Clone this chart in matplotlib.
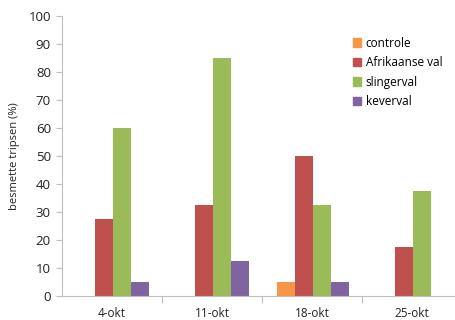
import numpy as np
import matplotlib
matplotlib.use('Agg')
import matplotlib.pyplot as plt
from matplotlib.patches import Patch

dates = ['4-okt', '11-okt', '18-okt', '25-okt']
series = ['controle', 'Afrikaanse val', 'slingerval', 'keverval']
controle = [0, 0, 5, 0]
afrikaanse_val = [27.5, 32.5, 50, 17.5]
slingerval = [60, 85, 32.5, 37.5]
keverval = [5, 12.5, 5, 0]
colors = ['#F79646', '#C0504D', '#9BBB59', '#8064A2']

plt.rcParams['font.family'] = ['Open Sans', 'DejaVu Sans']

fig = plt.figure(figsize=(4.55, 3.2), dpi=100)
ax = fig.add_axes([62 / 455, 1 - 296.3 / 320, 400 / 455, (296.3 - 15.7) / 320])

x = np.arange(len(dates))
w = 0.18
values = [controle, afrikaanse_val, slingerval, keverval]
for i, (vals, c) in enumerate(zip(values, colors)):
    ax.bar(x + (i - 1.5) * w + 0.01, vals, width=w, color=c, linewidth=0)

ax.set_xlim(-0.5, len(dates) - 0.5)
ax.set_ylim(0, 100)
ax.set_yticks(range(0, 101, 10))
ax.set_xticks(x)
ax.set_xticklabels(dates)
ax.set_xticks(np.arange(0.5, len(dates) - 0.5, 1), minor=True)

for s in ['top', 'right']:
    ax.spines[s].set_visible(False)
for s in ['left', 'bottom']:
    ax.spines[s].set_color('#BFBFBF')
    ax.spines[s].set_linewidth(0.8)

ax.tick_params(axis='x', which='major', length=0, pad=8, labelsize=8.5, colors='#222222')
ax.tick_params(axis='x', which='minor', length=5, color='#BFBFBF', width=0.8)
ax.tick_params(axis='y', length=4, color='#BFBFBF', width=0.8, labelsize=9.5,
               labelcolor='#222222', pad=4)
ax.set_ylabel('besmette tripsen (%)', fontsize=8, color='#222222', labelpad=6)

handles = [Patch(color=c, label=s) for c, s in zip(colors, series)]
fig.legend(handles=handles, loc='upper left', bbox_to_anchor=(348 / 455, 1 - 32 / 320),
           frameon=False, fontsize=8.5, handlelength=0.7, handleheight=0.7,
           handletextpad=0.4, labelspacing=0.55, borderaxespad=0)

fig.savefig('out.png', dpi=100)
